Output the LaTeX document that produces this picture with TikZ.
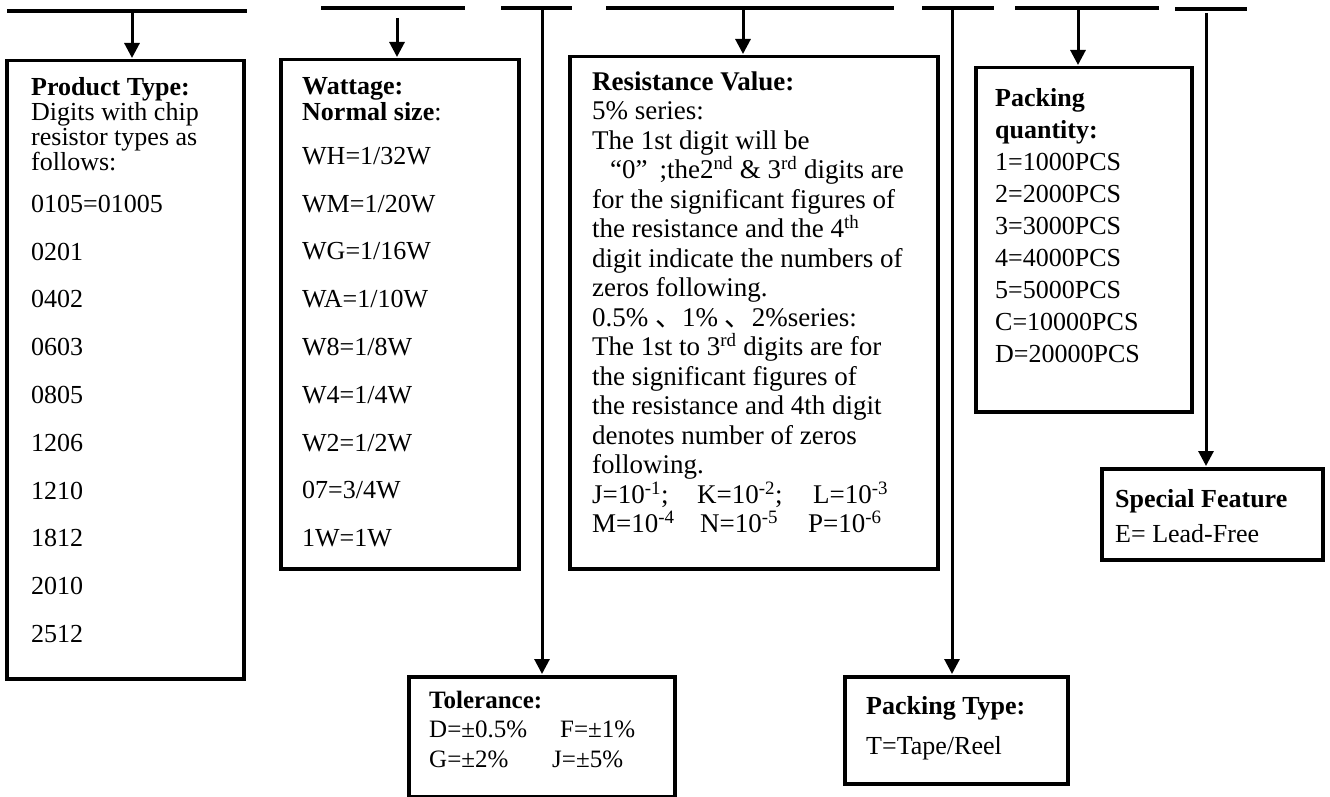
\documentclass[tikz,border=0pt]{standalone}
\usepackage{fontspec}
\setmainfont{Liberation Serif}
\newfontfamily\cjkfont{Noto Sans CJK SC}
\usetikzlibrary{arrows.meta}
\begin{document}
\begin{tikzpicture}[x=1pt,y=-1pt,
  bar/.style={line width=3.5pt},
  conn/.style={line width=3pt,-{Triangle[width=15pt,length=15pt]},shorten >=1pt},
  lead/.style={line width=3pt},
  box/.style={draw,line width=3.5pt,inner sep=0pt,anchor=north west},
  txt/.style={inner sep=0pt,anchor=north west,align=left},
]
\useasboundingbox (0,0) rectangle (1330,797);

% top bars
\coordinate (b1w) at (7,11);    \coordinate (b1e) at (247,11);
\coordinate (b2w) at (321,8);   \coordinate (b2e) at (465,8);
\coordinate (b3w) at (501,8);   \coordinate (b3e) at (572,8);
\coordinate (b4w) at (606,8);   \coordinate (b4e) at (894,8);
\coordinate (b5w) at (922,8);   \coordinate (b5e) at (994,8);
\coordinate (b6w) at (1015,8);  \coordinate (b6e) at (1159,8);
\coordinate (b7w) at (1175,9);  \coordinate (b7e) at (1247,9);
\foreach \i in {1,...,7} {\draw[bar] (b\i w) -- (b\i e);}

% boxes
\node[box,minimum width=237pt,minimum height=618pt] (prod)  at (5,59) {};
\node[box,minimum width=238pt,minimum height=509pt] (watt)  at (279,58) {};
\node[box,minimum width=368pt,minimum height=512pt] (res)   at (568,55) {};
\node[box,minimum width=216pt,minimum height=344pt] (qty)   at (974,66) {};
\node[box,minimum width=266pt,minimum height=120pt] (tol)   at (407,675) {};
\node[box,minimum width=223pt,minimum height=107pt] (ptype) at (843,675) {};
\node[box,minimum width=221pt,minimum height=91pt]  (spec)  at (1100,467) {};

% texts
\node[txt,font=\fontsize{26}{25}\selectfont] (prodtxt) at (31,73) {\rule{0pt}{22pt}\textbf{Product Type:}\\Digits with chip\\resistor types as\\follows:\\[17pt]0105=01005\\[22.8pt]0201\\[22.8pt]0402\\[22.8pt]0603\\[22.8pt]0805\\[22.8pt]1206\\[22.8pt]1210\\[22.8pt]1812\\[22.8pt]2010\\[22.8pt]2512};

\node[txt,font=\fontsize{26}{26}\selectfont] (watttxt) at (302,72) {\rule{0pt}{22pt}\textbf{Wattage:}\\\textbf{Normal size}:\\[18pt]WH=1/32W\\[21.8pt]WM=1/20W\\[21.8pt]WG=1/16W\\[21.8pt]WA=1/10W\\[21.8pt]W8=1/8W\\[21.8pt]W4=1/4W\\[21.8pt]W2=1/2W\\[21.8pt]07=3/4W\\[21.8pt]1W=1W};

\node[txt,font=\fontsize{27}{29.5}\selectfont] (restxt) at (592,68) {\rule{0pt}{22pt}\textbf{Resistance Value:}\\
5\% series:\\
The 1st digit will be\\
\hspace*{18pt}“0”\hspace{12pt};the2\textsuperscript{nd} \& 3\textsuperscript{rd} digits are\\
for the significant figures of\\
the resistance and the 4\textsuperscript{th}\\
digit indicate the numbers of\\
zeros following.\\
0.5\% {\cjkfont 、}1\% {\cjkfont 、}2\%series:\\
The 1st to 3\textsuperscript{rd} digits are for\\
the significant figures of\\
the resistance and 4th digit\\
denotes number of zeros\\
following.\\
\makebox[105pt][l]{J=10\textsuperscript{-1};}\makebox[116pt][l]{K=10\textsuperscript{-2};}L=10\textsuperscript{-3}\\
\makebox[108pt][l]{M=10\textsuperscript{-4}}\makebox[108pt][l]{N=10\textsuperscript{-5}}P=10\textsuperscript{-6}};

\node[txt,font=\fontsize{26}{32}\selectfont] (qtytxt) at (995,84) {\rule{0pt}{22pt}\textbf{Packing}\\\textbf{quantity:}\\1=1000PCS\\2=2000PCS\\3=3000PCS\\4=4000PCS\\5=5000PCS\\C=10000PCS\\D=20000PCS};

\node[txt,font=\fontsize{25}{29.5}\selectfont] (toltxt) at (429,686) {\rule{0pt}{22pt}\textbf{Tolerance:}\\\makebox[131pt][l]{D=±0.5\%}F=±1\%\\\makebox[123pt][l]{G=±2\%}J=±5\%};

\node[txt,font=\fontsize{26}{30}\selectfont] (ptypetxt) at (866,692) {\rule{0pt}{22pt}\textbf{Packing Type:}\\[10pt]T=Tape/Reel};

\node[txt,font=\fontsize{26}{30}\selectfont] (spectxt) at (1115,485) {\rule{0pt}{22pt}\textbf{Special Feature}\\[5pt]E= Lead-Free};

% connectors
\coordinate (a1) at (132,11);
\coordinate (a2) at (397,18);
\coordinate (a3) at (542,8);
\coordinate (a4) at (743,8);
\coordinate (a5) at (952,8);
\coordinate (a6) at (1078,8);
\coordinate (a7) at (1206,13);
\draw[conn] (a1) -- (a1 |- prod.north);
\draw[conn] (a2) -- (a2 |- watt.north);
\draw[conn] (a3) -- (a3 |- tol.north);
\draw[conn] (a4) -- (a4 |- res.north);
\draw[conn] (a5) -- (a5 |- ptype.north);
\draw[conn] (a6) -- (a6 |- qty.north);
\draw[conn] (a7) -- (a7 |- spec.north);
\end{tikzpicture}
\end{document}
